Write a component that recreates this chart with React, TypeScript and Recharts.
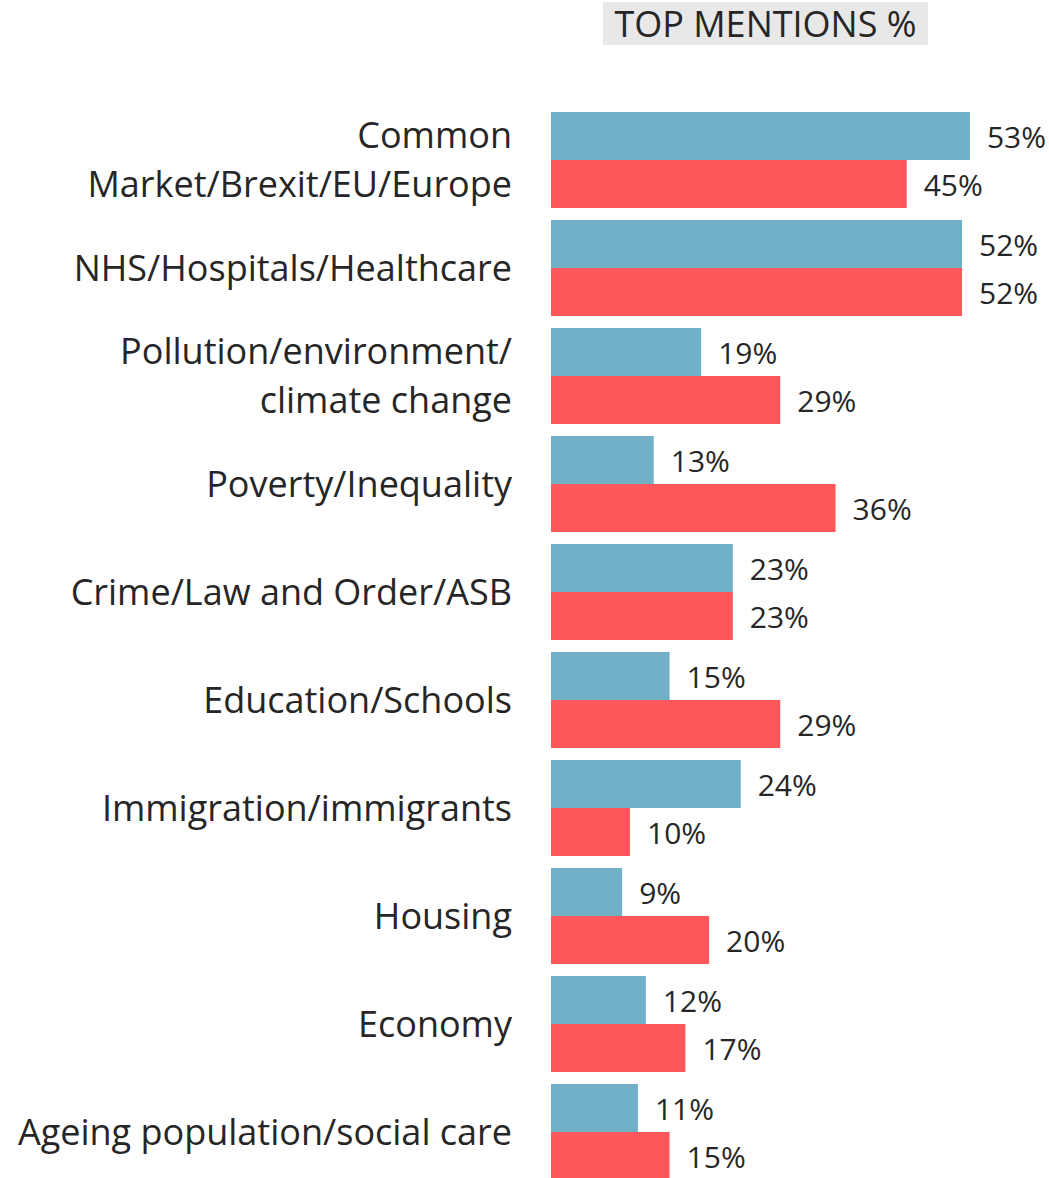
import React from 'react';
import { BarChart, Bar, XAxis, YAxis, LabelList } from 'recharts';

const categories = [
  'Common\nMarket/Brexit/EU/Europe',
  'NHS/Hospitals/Healthcare',
  'Pollution/environment/\nclimate change',
  'Poverty/Inequality',
  'Crime/Law and Order/ASB',
  'Education/Schools',
  'Immigration/immigrants',
  'Housing',
  'Economy',
  'Ageing population/social care',
];
const seriesBlue = [53, 52, 19, 13, 23, 15, 24, 9, 12, 11];
const seriesRed = [45, 52, 29, 36, 23, 29, 10, 20, 17, 15];

const data = categories.map((c, i) => ({ name: c, blue: seriesBlue[i], red: seriesRed[i] }));

const FONT = '"Open Sans", "Noto Sans", sans-serif';

const CatTick = (props: any) => {
  const { x, y, payload } = props;
  const lines = String(payload.value).split('\n');
  const lh = 49;
  const start = -((lines.length - 1) * lh) / 2;
  return (
    <g transform={`translate(${x},${y})`}>
      {lines.map((l: string, i: number) => (
        <text key={i} x={0} y={start + i * lh} dy="0.35em" textAnchor="end" fill="#262626" fontSize={36} fontFamily={FONT}>
          {l}
        </text>
      ))}
    </g>
  );
};

const ValLabel = (props: any) => {
  const { x, y, width, height, value } = props;
  return (
    <text x={x + width + 17} y={y + height / 2 + 1.5} dy="0.35em" textAnchor="start" fill="#262626" fontSize={30} fontFamily={FONT}>
      {value}%
    </text>
  );
};

export default function App() {
  return (
    <div style={{ position: 'absolute', left: 0, top: 0, width: 1049, height: 1178, overflow: 'hidden', background: '#fff' }}>
      <div
        style={{
          position: 'absolute',
          left: 603,
          top: 2,
          width: 325,
          height: 43,
          background: '#e8e8e8',
          color: '#262626',
          fontFamily: FONT,
          fontSize: 36,
          lineHeight: '44px',
          textAlign: 'center',
          whiteSpace: 'nowrap',
        }}
      >
        TOP MENTIONS %
      </div>
      <div style={{ position: 'absolute', left: 0, top: 0 }}>
        <BarChart
          width={1049}
          height={1200}
          data={data}
          layout="vertical"
          margin={{ top: 106, right: 0, bottom: 14, left: 0 }}
          barCategoryGap={6}
          barGap={0}
        >
          <XAxis type="number" domain={[0, 63]} hide />
          <YAxis
            type="category"
            dataKey="name"
            width={551}
            axisLine={false}
            tickLine={false}
            tick={<CatTick />}
            tickMargin={33}
            interval={0}
          />
          <Bar dataKey="blue" fill="#71B0C8" isAnimationActive={false}>
            <LabelList dataKey="blue" content={<ValLabel />} />
          </Bar>
          <Bar dataKey="red" fill="#FD575C" isAnimationActive={false}>
            <LabelList dataKey="red" content={<ValLabel />} />
          </Bar>
        </BarChart>
      </div>
    </div>
  );
}
